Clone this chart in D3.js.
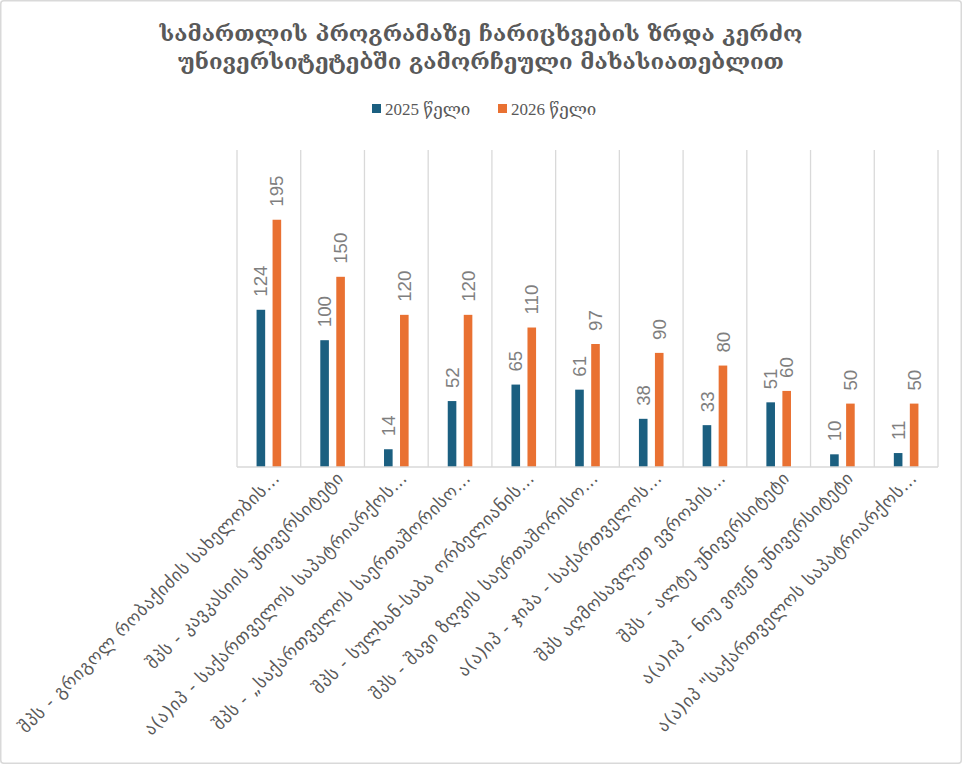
<!DOCTYPE html>
<html>
<head>
<meta charset="utf-8">
<script src="https://cdn.jsdelivr.net/npm/d3@7"></script>
<style>
  body { margin: 0; background: #fff; }
  #chart { width: 962px; height: 764px; }
</style>
</head>
<body>
<div id="chart"></div>
<script>
var titleLines = ["სამართლის პროგრამაზე ჩარიცხვების ზრდა კერძო",
                  "უნივერსიტეტებში გამორჩეული მახასიათებლით"];
var seriesNames = ["2025 წელი", "2026 წელი"];
var universities = [
  "შპს - გრიგოლ რობაქიძის სახელობის…",
  "შპს - კავკასიის უნივერსიტეტი",
  "ა(ა)იპ - საქართველოს საპატრიარქოს…",
  "შპს - „საქართველოს საერთაშორისო…",
  "შპს - სულხან-საბა ორბელიანის…",
  "შპს - შავი ზღვის საერთაშორისო…",
  "ა(ა)იპ - ჯიპა - საქართველოს…",
  "შპს აღმოსავლეთ ევროპის…",
  "შპს - ალტე უნივერსიტეტი",
  "ა(ა)იპ - ნიუ ვიჟენ უნივერსიტეტი",
  "ა(ა)იპ \"საქართველოს საპატრიარქოს…"
];
var values2025 = [124, 100, 14, 52, 65, 61, 38, 33, 51, 10, 11];
var values2026 = [195, 150, 120, 120, 110, 97, 90, 80, 60, 50, 50];
var yMax = 250;

var W = 962, H = 764;
var margin = {top: 150, right: 24, bottom: 297, left: 237},
    width = W - margin.left - margin.right,
    height = H - margin.top - margin.bottom;

var root = d3.select("#chart").append("svg")
    .attr("width", W)
    .attr("height", H);

// outer frame
root.append("rect")
    .attr("x", 0.75).attr("y", 0.75)
    .attr("width", W - 1.5).attr("height", H - 1.5)
    .attr("rx", 3)
    .attr("fill", "#fff")
    .attr("stroke", "#d9d9d9")
    .attr("stroke-width", 1.5);

var svg = root.append("g")
    .attr("transform", "translate(" + margin.left + "," + margin.top + ")");

var x = d3.scaleBand().domain(universities).range([0, width]).paddingInner(0).paddingOuter(0),
    y = d3.scaleLinear().domain([0, yMax]).range([height, 0]),
    z = d3.scaleOrdinal().domain(seriesNames).range(["#1b5f80", "#e97132"]);

var barW = 8.6, barGap = 7.4;
var x1 = d3.scaleOrdinal().domain(seriesNames)
    .range([-(barGap / 2 + barW), barGap / 2]);

// vertical gridlines at category boundaries
var bounds = universities.map(function(d) { return x(d); }).concat([width]);
svg.append("g")
    .selectAll("line")
    .data(bounds)
    .enter().append("line")
      .attr("x1", function(d) { return d; })
      .attr("x2", function(d) { return d; })
      .attr("y1", 0)
      .attr("y2", height)
      .attr("stroke", "#d9d9d9")
      .attr("stroke-width", 1.3);

var rows = universities.map(function(u, i) {
  return {name: u, vals: [values2025[i], values2026[i]]};
});

var groups = svg.append("g")
  .selectAll("g")
  .data(rows)
  .enter().append("g")
    .attr("transform", function(d) { return "translate(" + (x(d.name) + x.bandwidth() / 2) + ",0)"; });

groups.selectAll("rect")
  .data(function(d) { return d.vals.map(function(v, j) { return {key: seriesNames[j], value: v}; }); })
  .enter().append("rect")
    .attr("x", function(d) { return x1(d.key); })
    .attr("y", function(d) { return y(d.value); })
    .attr("width", barW)
    .attr("height", function(d) { return height - y(d.value); })
    .attr("fill", function(d) { return z(d.key); });

groups.selectAll("text")
  .data(function(d) { return d.vals.map(function(v, j) { return {key: seriesNames[j], value: v}; }); })
  .enter().append("text")
    .attr("transform", function(d) {
      return "translate(" + (x1(d.key) + barW / 2) + "," + (y(d.value) - 13) + ") rotate(-90)";
    })
    .attr("dy", "0.35em")
    .style("text-anchor", "start")
    .attr("font-family", "Liberation Sans, Arial, sans-serif")
    .attr("font-size", "18.7px")
    .attr("fill", "#7f7f7f")
    .text(function(d) { return d.value; });

// baseline axis
svg.append("line")
    .attr("x1", 0).attr("x2", width)
    .attr("y1", height).attr("y2", height)
    .attr("stroke", "#d9d9d9")
    .attr("stroke-width", 1.3);

// category labels, rotated
svg.append("g")
  .selectAll("text")
  .data(universities)
  .enter().append("text")
    .attr("transform", function(d) {
      return "translate(" + (x(d) + x.bandwidth() / 2 + 12) + "," + (height + 12) + ") rotate(-45)";
    })
    .style("text-anchor", "end")
    .attr("font-family", "DejaVu Sans, sans-serif")
    .attr("font-size", "17.6px")
    .attr("letter-spacing", "0.7px")
    .attr("fill", "#595959")
    .text(function(d) { return d; });

// title
root.append("g")
  .selectAll("text")
  .data(titleLines)
  .enter().append("text")
    .attr("x", 481)
    .attr("y", function(d, i) { return 41 + i * 28; })
    .style("text-anchor", "middle")
    .attr("font-family", "DejaVu Serif, DejaVu Sans, serif")
    .attr("font-weight", "bold")
    .attr("font-size", "22.2px")
    .attr("fill", "#595959")
    .text(function(d) { return d; });

// legend
var legend = root.append("g").attr("class", "legend");
var legendX = [372, 498];
seriesNames.forEach(function(s, i) {
  legend.append("rect")
      .attr("x", legendX[i]).attr("y", 104)
      .attr("width", 9).attr("height", 9)
      .attr("fill", z(s));
  legend.append("text")
      .attr("x", legendX[i] + 13).attr("y", 115)
      .attr("font-family", "Liberation Serif, DejaVu Serif, serif")
      .attr("font-size", "17px")
      .attr("fill", "#595959")
      .text(s);
});
</script>
</body>
</html>
